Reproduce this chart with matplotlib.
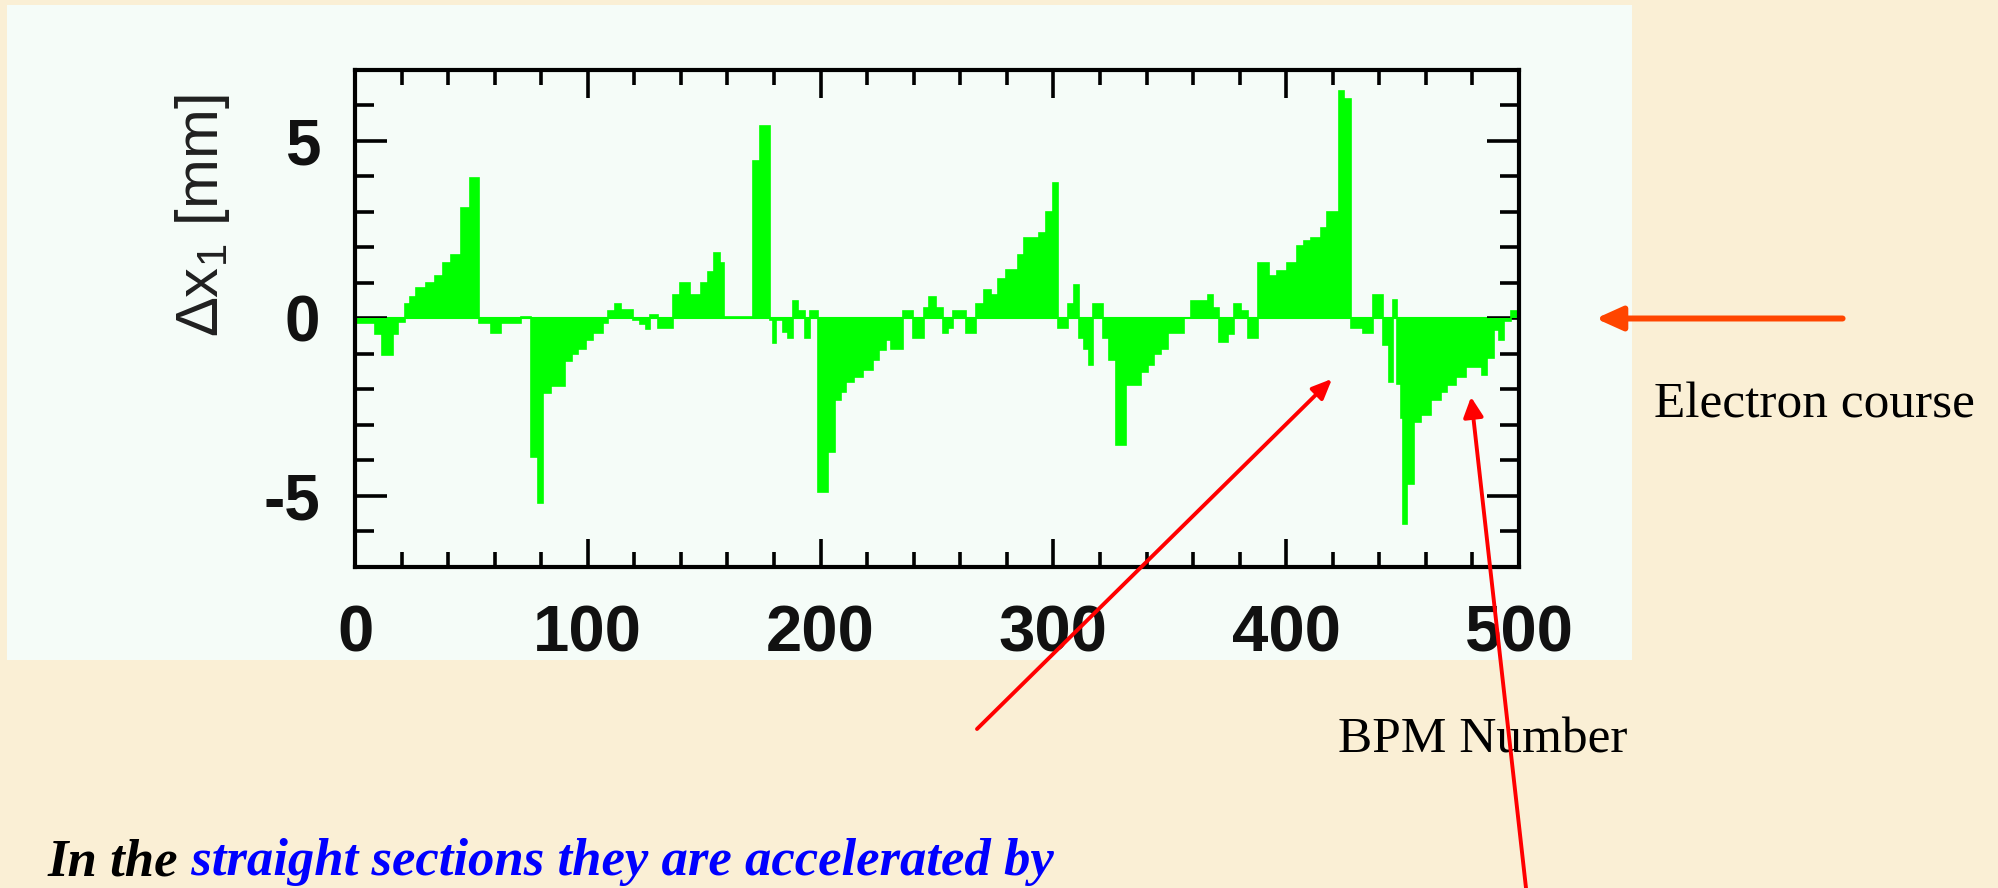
import matplotlib
matplotlib.use("Agg")
import matplotlib.pyplot as plt
from matplotlib.patches import Rectangle
from matplotlib.ticker import MultipleLocator

plt.rcParams['font.family'] = ['Liberation Sans', 'DejaVu Sans']
plt.rcParams['mathtext.fontset'] = 'custom'
plt.rcParams['mathtext.rm'] = 'Liberation Sans'

# orbit difference per BPM
bpm_edges = [0, 8.6, 11.4, 16.4, 18.6, 21.4, 23.6, 26.4, 30.7, 34.3, 37.9, 41.4, 45.7, 49.3, 53.1,
             58.6, 62.9, 71.4, 75.7, 78.6, 80.7, 84.3,
             90.1, 93.0, 95.8, 99.4, 102.3, 106.6, 108.7, 111.6, 114.4, 119.4, 122.3, 125.1, 126.6,
             130.1, 136.5, 139.4, 143.7, 148.7, 151.6, 154.4, 156.6, 158.7,
             171.0, 173.8, 178.1, 179.5, 181.0, 183.8, 186.0, 188.1, 190.3, 193.1, 195.3, 198.8, 203.1,
             206.0, 208.8, 211.0, 214.5, 218.1, 222.4, 225.3, 228.1, 230.3, 235.3, 239.5, 244.5, 246.7,
             249.5, 252.5,
             254.7, 256.8, 262.5, 266.8, 270.4, 273.2, 276.1, 279.7, 284.7, 287.5, 294.0, 296.8, 299.7,
             301.8, 306.1, 309.0, 311.1, 313.2, 315.4, 317.0, 321.1, 324.0, 326.8, 331.1, 337.6,
             340.5, 343.4, 346.2, 349.1, 356.2, 359.1, 366.2, 368.4, 371.2, 374.8, 377.7, 380.5, 383.4,
             387.7, 392.7, 396.2, 400.5, 404.8, 407.7, 410.5, 414.8, 417.7, 422.8,
             424.9, 427.8, 432.8, 437.1, 441.4, 444.2, 445.8, 447.6, 449.2, 450.0, 452.1, 454.9, 457.8,
             462.1, 466.4, 469.2, 472.8, 477.1, 484.2, 486.4, 489.2, 491.4, 493.5, 496.4, 500]
dx_mm = [-0.12, -0.45, -1.03, -0.45, -0.1, 0.4, 0.6, 0.85, 1.0, 1.2, 1.55, 1.8, 3.1, 3.97, -0.13,
         -0.4, -0.13, 0.05, -3.9, -5.2, -2.1,
         -1.9, -1.2, -1.0, -0.85, -0.6, -0.4, -0.13, 0.2, 0.4, 0.25, -0.05, -0.15, -0.3, 0.1, -0.27,
         0.67, 1.0, 0.67, 1.0, 1.3, 1.85, 1.57, 0.03,
         4.45, 5.43, -0.05, -0.7, -0.05, -0.37, -0.55, 0.48, 0.2, -0.55, 0.2, -4.9, -3.75, -2.3,
         -2.07, -1.8, -1.65, -1.45, -1.17, -0.9, -0.6, -0.85, 0.2, -0.55, 0.3, 0.6, 0.3,
         -0.4, -0.27, 0.2, -0.4, 0.4, 0.8, 0.67, 1.1, 1.38, 1.8, 2.27, 2.4, 3.0, 3.83, -0.27, 0.4,
         0.95, -0.55, -0.85, -1.3, 0.4, -0.55, -1.17, -3.57, -1.88,
         -1.5, -1.3, -1.0, -0.85, -0.4, 0.02, 0.48, 0.67, 0.3, -0.65, -0.45, 0.4, 0.2, -0.55, 1.57,
         1.2, 1.33, 1.57, 2.04, 2.18, 2.27, 2.55, 3.0,
         6.42, 6.19, -0.27, -0.4, 0.67, -0.75, -1.8, 0.53, -1.85, -2.8, -5.8, -4.66, -2.92, -2.73,
         -2.3, -2.07, -1.88, -1.65, -1.36, -1.6, -1.12, -0.32, -0.6, -0.08, 0.2]

x_ticks = [0, 100, 200, 300, 400, 500]
x_labels = ["0", "100", "200", "300", "400", "500"]
y_ticks = [-5, 0, 5]
y_labels = ["-5", "0", "5"]

W, H = 1998, 888
fig = plt.figure(figsize=(W / 100, H / 100), dpi=100, facecolor='#FAEFD5')

# white panel behind the plot
fig.patches.append(Rectangle((7 / W, 1 - 660 / H), 1625 / W, 655 / H, transform=fig.transFigure,
                             facecolor='#F5FCF8', edgecolor='none', zorder=0))

ax = fig.add_axes([355 / W, 1 - 567 / H, 1164 / W, 497 / H])
ax.set_zorder(5)
ax.set_facecolor('#F5FCF8')
ax.axhline(0, color='#00FF00', lw=1.5, zorder=1)
ax.stairs(dx_mm, bpm_edges, fill=True, baseline=0, color='#00FF00', zorder=2)
ax.stairs(dx_mm, bpm_edges, baseline=0, color='#00FF00', lw=1.2, zorder=2)

ax.set_xlim(0, 500)
ax.set_ylim(-7, 7)
ax.set_xticks(x_ticks, x_labels, fontsize=47, fontweight='bold', color='#111111')
ax.set_yticks(y_ticks, y_labels, fontsize=46, fontweight='bold', color='#111111')
ax.xaxis.set_minor_locator(MultipleLocator(20))
ax.yaxis.set_minor_locator(MultipleLocator(1))
ax.tick_params(which='both', direction='in', top=True, right=True, width=2.6, color='black')
ax.tick_params(axis='x', which='major', length=20, pad=27)
ax.tick_params(axis='x', which='minor', length=11)
ax.tick_params(axis='y', which='major', length=23, pad=25)
ax.tick_params(axis='y', which='minor', length=14)
for s in ax.spines.values():
    s.set_linewidth(3)

ax.text(-0.1306, 0.706, r'$\Delta$x$_1$ [mm]', transform=ax.transAxes, rotation=90,
        ha='center', va='center', fontsize=43, color='#202020')

# arrows
ax.annotate('', xy=(533, 0), xytext=(639, 0), textcoords='data',
            annotation_clip=False,
            arrowprops=dict(arrowstyle='-|>,head_length=0.4,head_width=0.18', mutation_scale=40,
                            color='#FF4500', lw=4.3, shrinkA=0, shrinkB=0))
ax.annotate('', xy=(419.7, -1.70), xytext=(977, H - 729), textcoords='figure pixels',
            annotation_clip=False,
            arrowprops=dict(arrowstyle='-|>,head_length=0.3,head_width=0.13', mutation_scale=40,
                            color='#FF0000', lw=2.8, shrinkA=0, shrinkB=0))
ax.annotate('', xy=(479.4, -2.21), xytext=(1526, 0), textcoords='figure pixels',
            annotation_clip=False,
            arrowprops=dict(arrowstyle='-|>,head_length=0.3,head_width=0.15', mutation_scale=40,
                            color='#FF0000', lw=2.8, shrinkA=0, shrinkB=0))

fig.text(1654 / W, 1 - 417 / H, 'Electron course', family='Liberation Serif', fontsize=37,
         va='baseline', ha='left', color='black')
fig.text(1338 / W, 1 - 752 / H, 'BPM Number', family='Liberation Serif', fontsize=37,
         va='baseline', ha='left', color='black')

t1 = fig.text(48 / W, 1 - 875 / H, 'In the', family='Liberation Serif', fontsize=38,
              fontweight='bold', fontstyle='italic', va='baseline', ha='left', color='black')
ax.annotate(' straight sections they are accelerated by', xy=(1, 0), xycoords=t1,
            va='bottom', ha='left', family='Liberation Serif', fontsize=38,
            fontweight='bold', fontstyle='italic', color='#0000FF', annotation_clip=False)

fig.savefig('out.png', dpi=100, facecolor=fig.get_facecolor())
